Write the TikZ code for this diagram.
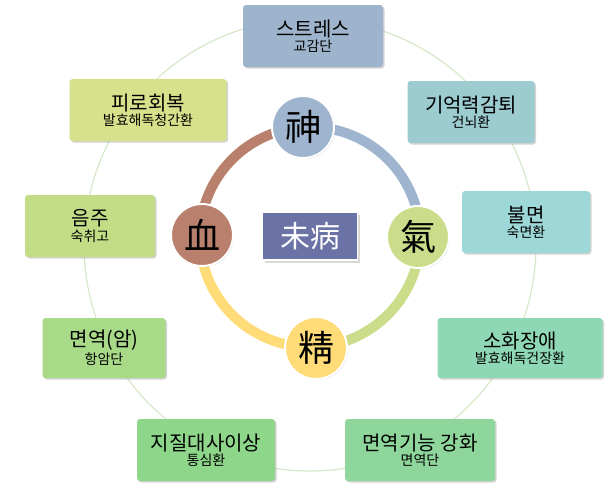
\documentclass[tikz,border=0pt]{standalone}
\usepackage{fontspec}
\setmainfont{Noto Sans CJK KR}
\newfontfamily\hanja{Noto Sans CJK KR}
\usetikzlibrary{shadows}
\definecolor{cA}{HTML}{9DB4CC}
\definecolor{cB}{HTML}{9CCBD0}
\definecolor{cC}{HTML}{9DD7D7}
\definecolor{cD}{HTML}{8FD8B6}
\definecolor{cE}{HTML}{8FD69C}
\definecolor{cF}{HTML}{8DD68A}
\definecolor{cG}{HTML}{A8DA88}
\definecolor{cH}{HTML}{C2DD86}
\definecolor{cI}{HTML}{D7E08A}
\definecolor{shen}{HTML}{9FB5CF}
\definecolor{qi}{HTML}{CBDD8A}
\definecolor{jing}{HTML}{FFDC78}
\definecolor{xue}{HTML}{B9806D}
\definecolor{mid}{HTML}{6B73A6}
\tikzset{
 box/.style={rounded corners=3pt, minimum width=#1, minimum height=62pt, align=center, drop shadow={shadow xshift=1.5pt,shadow yshift=-1.5pt,opacity=0.35}, inner sep=2pt},
 hj/.style={circle, minimum size=62pt, draw=white, line width=2pt, font=\fontsize{36}{36}\selectfont\hanja, inner sep=0pt, drop shadow={shadow xshift=1pt,shadow yshift=-1pt,opacity=0.3}},
 arcline/.style={line width=10pt},
}
\newcommand{\bx}[2]{{\fontsize{20}{24}\selectfont #1}\\[1pt]{\fontsize{14}{17}\selectfont #2}}
\begin{document}
\begin{tikzpicture}[x=1pt,y=-1pt]
\useasboundingbox (0,0) rectangle (606,490);
\draw[color={rgb,255:red,214;green,232;blue,200}, line width=1.2pt] (310,245) circle (226);
\coordinate (O) at (310,237);
\draw[arcline, color=shen] (O) ++(-90:110) arc[start angle=-90,end angle=0,radius=110];
\draw[arcline, color=qi] (O) ++(0:110) arc[start angle=0,end angle=90,radius=110];
\draw[arcline, color=jing] (O) ++(90:110) arc[start angle=90,end angle=180,radius=110];
\draw[arcline, color=xue] (O) ++(180:110) arc[start angle=180,end angle=270,radius=110];
\node[hj, fill=shen] (shen) at (303,127) {神};
\node[hj, fill=qi] (qi) at (418,237) {氣};
\node[hj, fill=jing] (jing) at (316,348) {精};
\node[hj, fill=xue] (xue) at (202,235) {血};
\node[fill=mid, draw=white, line width=1.5pt, minimum width=95pt, minimum height=48pt, text=white, font=\fontsize{30}{30}\selectfont, drop shadow={opacity=0.3}] (mb) at (310,236) {未病};
\node[box=140pt, fill=cA] (b1) at (313,36) {\bx{스트레스}{교감단}};
\node[box=127pt, fill=cB] (b2) at (471,112) {\bx{기억력감퇴}{건뇌환}};
\node[box=128pt, fill=cC] (b3) at (526,222) {\bx{불면}{숙면환}};
\node[box=165pt, fill=cD, minimum height=60pt] (b4) at (520,348) {\bx{소화장애}{발효해독건장환}};
\node[box=150pt, fill=cE] (b5) at (420,450) {\bx{면역기능 강화}{면역단}};
\node[box=138pt, fill=cF] (b6) at (206,450) {\bx{지질대사이상}{통심환}};
\node[box=123pt, fill=cG, minimum height=60pt] (b7) at (104,348) {\bx{면역(암)}{항암단}};
\node[box=130pt, fill=cH] (b8) at (90,226) {\bx{음주}{숙취고}};
\node[box=157pt, fill=cI] (b9) at (148,110) {\bx{피로회복}{발효해독청간환}};
\end{tikzpicture}
\end{document}
